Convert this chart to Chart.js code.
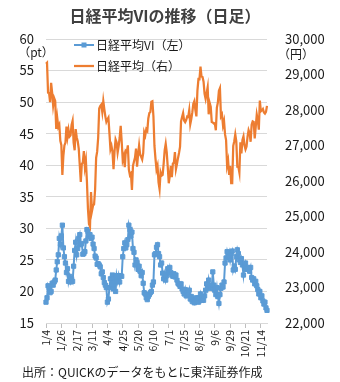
<!DOCTYPE html>
<html lang="ja">
<head>
<meta charset="UTF-8">
<title>日経平均VIの推移（日足）</title>
<script src="https://cdn.jsdelivr.net/npm/chart.js"></script>
<style>
    body { margin: 0; background: #ffffff; }
    #wrap { width: 340px; height: 382px; }
</style>
</head>
<body>
<div id="wrap"><canvas id="chart" width="340" height="382"></canvas></div>
<script>
// 営業日（2022年）
const dates = [
    '1/4','1/5','1/6','1/7','1/11','1/12','1/13','1/14','1/17','1/18','1/19','1/20','1/21','1/24','1/25','1/26','1/27','1/28','1/31',
    '2/1','2/2','2/3','2/4','2/7','2/8','2/9','2/10','2/14','2/15','2/16','2/17','2/18','2/21','2/22','2/24','2/25','2/28',
    '3/1','3/2','3/3','3/4','3/7','3/8','3/9','3/10','3/11','3/14','3/15','3/16','3/17','3/18','3/22','3/23','3/24','3/25','3/28','3/29','3/30','3/31',
    '4/1','4/4','4/5','4/6','4/7','4/8','4/11','4/12','4/13','4/14','4/15','4/18','4/19','4/20','4/21','4/22','4/25','4/26','4/27','4/28',
    '5/2','5/6','5/9','5/10','5/11','5/12','5/13','5/16','5/17','5/18','5/19','5/20','5/23','5/24','5/25','5/26','5/27','5/30','5/31',
    '6/1','6/2','6/3','6/6','6/7','6/8','6/9','6/10','6/13','6/14','6/15','6/16','6/17','6/20','6/21','6/22','6/23','6/24','6/27','6/28','6/29','6/30',
    '7/1','7/4','7/5','7/6','7/7','7/8','7/11','7/12','7/13','7/14','7/15','7/19','7/20','7/21','7/22','7/25','7/26','7/27','7/28','7/29',
    '8/1','8/2','8/3','8/4','8/5','8/8','8/9','8/10','8/12','8/15','8/16','8/17','8/18','8/19','8/22','8/23','8/24','8/25','8/26','8/29','8/30','8/31',
    '9/1','9/2','9/5','9/6','9/7','9/8','9/9','9/12','9/13','9/14','9/15','9/16','9/20','9/21','9/22','9/26','9/27','9/28','9/29','9/30',
    '10/3','10/4','10/5','10/6','10/7','10/11','10/12','10/13','10/14','10/17','10/18','10/19','10/20','10/21','10/24','10/25','10/26','10/27','10/28','10/31',
    '11/1','11/2','11/4','11/7','11/8','11/9','11/10','11/11','11/14','11/15','11/16','11/17','11/18','11/21','11/22'
];

// 日経平均VI（左軸, pt）
const viValues = [
    18.3, 19.0, 20.9, 20.5, 19.8, 20.0, 21.3, 21.0, 21.5, 21.8, 23.4, 24.7, 25.8, 28.4, 27.5, 28.8, 30.5, 26.9, 25.5,
    24.5, 23.0, 23.6, 21.6, 22.4, 21.5, 22.0, 21.6, 24.0, 26.5, 27.8, 25.8, 26.8, 28.4, 29.0, 27.4, 27.6, 25.9,
    26.0, 26.3, 28.0, 29.8, 29.5, 28.7, 29.0, 28.4, 28.6, 27.5, 26.8, 25.6, 25.3, 24.3, 24.4, 24.2, 23.9, 22.8, 23.1, 22.2, 21.4, 21.0,
    20.6, 18.3, 18.8, 20.6, 22.0, 21.0, 22.6, 20.4, 22.1, 20.0, 22.5, 21.6, 22.5, 21.5, 22.5, 22.4, 25.5, 26.8, 27.7, 26.9,
    27.4, 28.2, 30.5, 29.8, 28.8, 29.4, 26.8, 26.2, 24.2, 25.0, 24.6, 23.5, 24.0, 23.2, 22.5, 23.0, 21.3, 19.8, 19.6,
    19.0, 18.7, 19.2, 19.5, 19.8, 20.0, 21.0, 21.5, 25.8, 26.0, 27.0, 27.4, 26.0, 25.5, 24.2, 24.5, 22.9, 22.0, 22.8, 21.8, 22.5, 23.6,
    23.0, 23.8, 23.0, 22.6, 22.4, 22.8, 22.3, 22.6, 21.8, 21.3, 21.1, 20.8, 21.2, 20.4, 20.0, 19.6, 20.3, 19.3, 19.8, 19.5,
    20.2, 18.8, 19.2, 18.4, 18.8, 18.2, 18.6, 19.0, 18.5, 18.3, 19.0, 19.6, 18.6, 19.0, 18.6, 19.3, 20.2, 21.2, 20.5, 21.8, 20.8, 21.0,
    20.5, 23.1, 21.0, 20.2, 19.5, 20.6, 19.2, 18.1, 19.5, 20.5, 21.0, 20.7, 21.5, 24.5, 25.3, 26.3, 25.6, 26.2, 25.0, 26.0,
    26.4, 23.4, 24.0, 23.5, 25.5, 26.6, 26.0, 25.0, 24.6, 25.2, 24.2, 22.6, 24.0, 24.5, 23.5, 23.8, 23.6, 23.2, 23.8, 22.2,
    21.8, 22.0, 21.2, 21.6, 20.9, 20.3, 19.6, 20.0, 19.0, 19.3, 18.5, 18.0, 18.3, 17.4, 17.0
];

// 日経平均（右軸, 円）
const nikkeiValues = [
    29302, 29332, 28488, 28479, 28222, 28766, 28489, 28124, 28334, 28257, 27467, 27773, 27522, 27588, 27131, 27011, 26170, 26717, 27002,
    27078, 27534, 27241, 27440, 27249, 27285, 27580, 27696, 27080, 26865, 27460, 27233, 27122, 26911, 26450, 25971, 26477, 26527,
    26845, 26393, 26577, 25985, 25221, 24791, 24718, 25690, 25163, 25308, 25346, 25762, 26653, 26827, 27224, 28040, 28110, 28150, 27944, 28252, 28027, 27821,
    27666, 27736, 27788, 27350, 26889, 26986, 26822, 26335, 26843, 27172, 27093, 26800, 26985, 27218, 27553, 27105, 26591, 26700, 26387, 26848,
    26819, 27004, 26319, 26167, 26214, 25749, 26428, 26547, 26660, 26911, 26403, 26739, 27002, 26748, 26678, 26605, 26782, 27369, 27280,
    27458, 27414, 27762, 27916, 27944, 28234, 28247, 27824, 26987, 26630, 26326, 26431, 25963, 25771, 26246, 26150, 26171, 26492, 26871, 27049, 26805, 26393,
    25936, 26154, 26423, 26108, 26491, 26517, 26812, 26337, 26479, 26643, 26788, 26962, 27680, 27803, 27915, 27699, 27655, 27716, 27815, 27802,
    27993, 27595, 27742, 27932, 28176, 28249, 28000, 27819, 28547, 28872, 28869, 29223, 28942, 28930, 28795, 28453, 28313, 28479, 28641, 27879, 28196, 28092,
    27661, 27651, 27620, 27627, 27430, 28065, 28215, 28542, 28615, 27819, 27876, 27568, 27688, 27313, 27154, 26432, 26572, 26174, 26422, 25937,
    25937, 26992, 27121, 27311, 27116, 26401, 26397, 26237, 27091, 26776, 27156, 27257, 27007, 26891, 26975, 27250, 27432, 27345, 27105, 27587,
    27679, 27663, 27200, 27528, 27872, 27716, 27446, 28264, 27963, 27990, 28028, 27931, 27900, 27945, 28116
];

const seriesNames = ['日経平均VI（左）', '日経平均（右）'];
const titleText = '日経平均VIの推移（日足）';
const sourceText = '出所：QUICKのデータをもとに東洋証券作成';
const tickEvery = 15;

const BLUE = '#5B9BD5';
const ORANGE = '#ED7D31';
const FONT = '"Noto Sans CJK JP", "Noto Sans", sans-serif';
const TEXT = '#1a1a1a';

// タイトル・凡例・単位・出所、縦書きの日付ラベルを描く
const textPlugin = {
    id: 'texts',
    afterDraw(chart) {
        const c = chart.ctx;
        const xs = chart.scales.x;
        c.save();
        c.textBaseline = 'middle';

        c.fillStyle = '#404040';
        c.font = 'bold 16px ' + FONT;
        c.textAlign = 'center';
        c.fillText(titleText, 165, 16);

        c.fillStyle = TEXT;
        c.font = '12px ' + FONT;
        c.fillText('（pt）', 36, 52);
        c.fillText('（円）', 296, 54);

        // 凡例
        const lx = 74, ly = [45, 66];
        c.lineWidth = 2;
        c.strokeStyle = BLUE;
        c.beginPath(); c.moveTo(lx, ly[0]); c.lineTo(lx + 20, ly[0]); c.stroke();
        c.fillStyle = BLUE;
        c.fillRect(lx + 7.5, ly[0] - 2.5, 5, 5);
        c.strokeStyle = ORANGE;
        c.lineWidth = 2.25;
        c.beginPath(); c.moveTo(lx, ly[1]); c.lineTo(lx + 20, ly[1]); c.stroke();
        c.fillStyle = TEXT;
        c.textAlign = 'left';
        c.fillText(seriesNames[0], lx + 22, ly[0]);
        c.fillText(seriesNames[1], lx + 22, ly[1]);

        c.fillText(sourceText, 22, 372);

        // x軸ラベル（-90°回転）
        c.font = '10.5px ' + FONT;
        c.textAlign = 'right';
        xs.ticks.forEach(t => {
            const px = xs.getPixelForValue(t.value);
            c.save();
            c.translate(px, xs.top + 7);
            c.rotate(-Math.PI / 2);
            c.fillText(xs.getLabelForValue(t.value), 0, 0);
            c.restore();
        });
        c.restore();
    }
};

const ctx = document.getElementById('chart').getContext('2d');
new Chart(ctx, {
    type: 'line',
    data: {
        labels: dates,
        datasets: [
            {
                label: seriesNames[0],
                data: viValues,
                yAxisID: 'yL',
                borderColor: BLUE,
                backgroundColor: BLUE,
                borderWidth: 2,
                pointStyle: 'rect',
                pointRadius: 3,
                pointBorderWidth: 1,
                pointBorderColor: BLUE,
                pointBackgroundColor: BLUE,
                tension: 0,
                order: 2
            },
            {
                label: seriesNames[1],
                data: nikkeiValues,
                yAxisID: 'yR',
                borderColor: ORANGE,
                borderWidth: 2.25,
                pointRadius: 0,
                tension: 0,
                order: 1
            }
        ]
    },
    options: {
        responsive: false,
        animation: false,
        layout: { padding: { top: 39, left: 0, right: 0, bottom: 0 } },
        plugins: {
            legend: { display: false },
            title: { display: false },
            tooltip: { enabled: false }
        },
        scales: {
            x: {
                offset: false,
                grid: { drawOnChartArea: false, drawTicks: true, tickLength: 5, color: '#bfbfbf' },
                border: { display: true, color: '#d9d9d9' },
                ticks: { display: false, autoSkip: false },
                afterBuildTicks: axis => { axis.ticks = axis.ticks.filter(t => t.value % tickEvery === 0); },
                afterFit: s => { s.height = 59; }
            },
            yL: {
                position: 'left',
                min: 15,
                max: 60,
                grid: { color: '#d9d9d9', drawTicks: false },
                border: { display: false },
                ticks: { stepSize: 5, padding: 12, color: TEXT, font: { family: FONT, size: 13 } },
                afterFit: s => { s.width = 46; }
            },
            yR: {
                position: 'right',
                min: 22000,
                max: 30000,
                grid: { display: false, drawOnChartArea: false },
                border: { display: false },
                ticks: {
                    stepSize: 1000,
                    padding: 10,
                    color: TEXT,
                    font: { family: FONT, size: 13 },
                    callback: v => v.toLocaleString('en-US')
                },
                afterFit: s => { s.width = 73; }
            }
        }
    },
    plugins: [textPlugin]
});
</script>
</body>
</html>
